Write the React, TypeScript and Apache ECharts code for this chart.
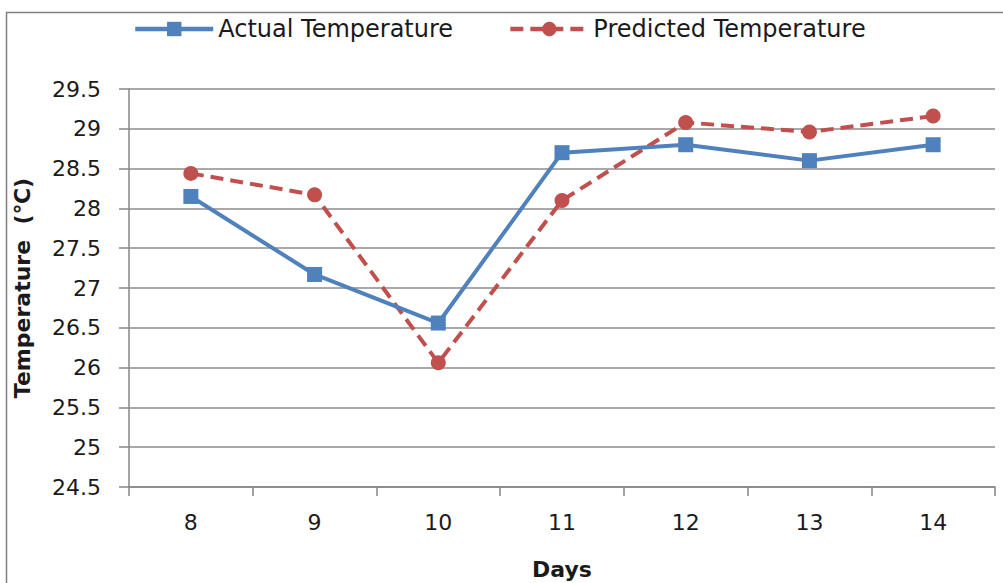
import React, { useEffect, useRef } from "react";
import * as echarts from "echarts";

const days = ["8", "9", "10", "11", "12", "13", "14"];
const actualTemperature = [28.15, 27.17, 26.56, 28.7, 28.8, 28.6, 28.8];
const predictedTemperature = [28.44, 28.17, 26.06, 28.1, 29.08, 28.96, 29.16];
const yMin = 24.5;
const yMax = 29.5;
const yStep = 0.5;

const FONT = "'DejaVu Sans', sans-serif";

export default function App() {
  const ref = useRef<HTMLDivElement>(null);
  useEffect(() => {
    document.body.style.margin = "0";
    const chart = echarts.init(ref.current!, null, { renderer: "svg" });
    chart.setOption({
      animation: false,
      backgroundColor: "#ffffff",
      textStyle: { fontFamily: FONT },
      graphic: [
        {
          type: "rect",
          shape: { x: 6.5, y: 12.5, width: 1100, height: 700 },
          style: { fill: "none", stroke: "#7f7f7f", lineWidth: 1.5 },
          silent: true,
          z: -1,
        },
      ],
      legend: {
        top: 12,
        left: 128,
        itemWidth: 78,
        itemHeight: 18,
        itemGap: 55,
        lineStyle: { width: 4.5 },
        textStyle: { fontSize: 24, color: "#1a1a1a", fontFamily: FONT },
        data: ["Actual Temperature", "Predicted Temperature"],
      },
      grid: { left: 129, right: 8, top: 89, bottom: 96, containLabel: false, outerBoundsMode: "none" },
      xAxis: {
        type: "category",
        data: days,
        boundaryGap: true,
        name: "Days",
        nameLocation: "middle",
        nameGap: 71,
        nameTextStyle: { fontSize: 22, fontWeight: "bold", color: "#1a1a1a", fontFamily: FONT },
        axisLine: { show: true, lineStyle: { color: "#868686", width: 1.5 } },
        axisTick: { show: true, length: 9, alignWithLabel: false, lineStyle: { color: "#868686", width: 1.5 } },
        axisLabel: { fontSize: 22, color: "#1a1a1a", margin: 24, fontFamily: FONT },
        splitLine: { show: false },
      },
      yAxis: {
        type: "value",
        min: yMin,
        max: yMax,
        interval: yStep,
        name: "Temperature  (℃)",
        nameLocation: "middle",
        nameGap: 96,
        nameRotate: 90,
        nameTextStyle: { fontSize: 22, fontWeight: "bold", color: "#1a1a1a", fontFamily: FONT },
        axisLine: { show: true, lineStyle: { color: "#868686", width: 1.5 } },
        axisTick: { show: true, length: 10, inside: false, lineStyle: { color: "#868686", width: 1.5 } },
        axisLabel: {
          fontSize: 22,
          color: "#1a1a1a",
          margin: 28,
          fontFamily: FONT,
          formatter: (v: number) => String(v),
        },
        splitLine: { show: true, lineStyle: { color: "#8c8c8c", width: 1.5 } },
      },
      series: [
        {
          name: "Actual Temperature",
          type: "line",
          data: actualTemperature,
          symbol: "rect",
          symbolSize: 15,
          itemStyle: { color: "#4F81BD" },
          lineStyle: { color: "#4F81BD", width: 4 },
          z: 3,
        },
        {
          name: "Predicted Temperature",
          type: "line",
          data: predictedTemperature,
          symbol: "circle",
          symbolSize: 15,
          itemStyle: { color: "#C0504D" },
          lineStyle: { color: "#C0504D", width: 4, type: [13, 7] },
          z: 2,
        },
      ],
    });
    return () => chart.dispose();
  }, []);
  return <div ref={ref} style={{ width: 1003, height: 583 }} />;
}
